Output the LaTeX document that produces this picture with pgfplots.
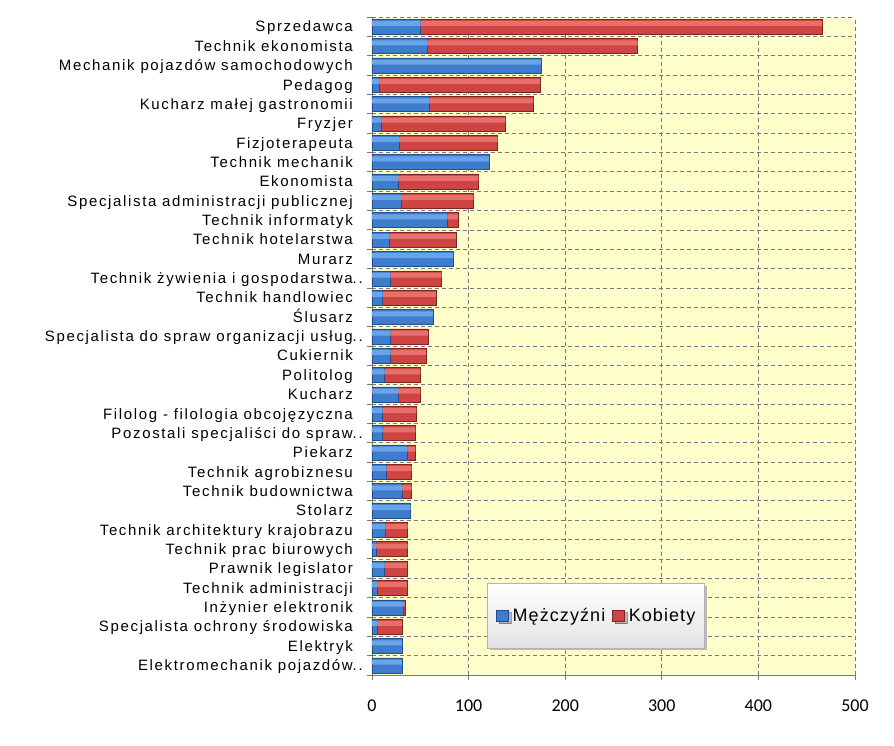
\documentclass[border=0pt]{standalone}
\usepackage{pgfplots}
\pgfplotsset{compat=1.18}
\usetikzlibrary{shadows}
\usepackage{fontspec}
\setmainfont{Liberation Sans}
\newfontfamily\lab[LetterSpace=11]{Liberation Sans}
\newfontfamily\leg[LetterSpace=6]{Liberation Sans}
\newfontfamily\num{Carlito}
\definecolor{bgy}{RGB}{255,255,204}
\definecolor{gridc}{RGB}{120,120,120}
\definecolor{bluehi}{RGB}{105,163,232}
\definecolor{bluemid}{RGB}{62,124,206}
\definecolor{bluebot}{RGB}{35,78,140}
\definecolor{redhi}{RGB}{232,112,108}
\definecolor{redmid}{RGB}{205,68,66}
\definecolor{redbot}{RGB}{128,34,34}
\pgfplotsset{myleg/.style={legend image code/.code={\fill[##1] (0pt,-5.5pt) rectangle (12pt,5.5pt);}}}
\pgfplotstableread{
idx m k
0 31 0
1 31 0
2 5 26
3 32 2
4 5 31
5 13 23
6 4 33
7 14 23
8 40 0
9 31 10
10 15 26
11 37 8
12 11 34
13 11 35
14 27 23
15 13 37
16 19 37
17 19 39
18 63 0
19 11 55
20 19 53
21 84 0
22 18 69
23 78 11
24 30 75
25 27 83
26 121 0
27 28 102
28 10 128
29 59 108
30 7 167
31 175 0
32 57 218
33 50 416
}\datatable
\begin{document}
\begin{tikzpicture}
\begin{axis}[
  at={(0,0)}, anchor=south west,
  scale only axis, width=483pt, height=658pt,
  xbar stacked, bar width=15pt,
  xmin=0, xmax=500, ymin=-0.5, ymax=33.5,
  xtick={0,100,...,500},
  minor xtick={0,100,...,500},
  ytick={0,...,33},
  minor ytick={-0.5,0.5,...,33.5},
  major tick length=0pt, minor tick length=5pt,
  tick align=outside,
  axis x line*=bottom, axis y line*=left,
  axis line style={gridc, line width=0.8pt},
  tick style={gridc, line width=0.8pt},
  xmajorgrids, yminorgrids,
  major grid style={gridc, dash pattern=on 4pt off 3pt, line width=0.7pt},
  minor grid style={gridc, dash pattern=on 4pt off 3pt, line width=0.7pt},
  axis background/.style={fill=bgy},
  /pgf/number format/assume math mode=true,
  yticklabels={Elektromechanik pojazdów\rlap{..},Elektryk,Specjalista ochrony środowiska,Inżynier elektronik,Technik administracji,Prawnik legislator,Technik prac biurowych,Technik architektury krajobrazu,Stolarz,Technik budownictwa,Technik agrobiznesu,Piekarz,Pozostali specjaliści do spraw\rlap{..},Filolog - filologia obcojęzyczna,Kucharz,Politolog,Cukiernik,Specjalista do spraw organizacji usług\rlap{..},Ślusarz,Technik handlowiec,Technik żywienia i gospodarstwa\rlap{..},Murarz,Technik hotelarstwa,Technik informatyk,Specjalista administracji publicznej,Ekonomista,Technik mechanik,Fizjoterapeuta,Fryzjer,Kucharz małej gastronomii,Pedagog,Mechanik pojazdów samochodowych,Technik ekonomista,Sprzedawca},
  yticklabel style={font=\lab\fontsize{15}{15}\selectfont, anchor=base east, inner sep=0pt, xshift=-19pt, yshift=-5.3pt},
  xticklabel style={font=\num\fontsize{18}{18}\selectfont, anchor=north, inner sep=0pt, yshift=-25pt},
  legend columns=2,
  legend style={at={(axis description cs:0.238,0.041)}, anchor=south west,
    draw=gray!60, top color=white, bottom color=gray!22, drop shadow,
    font=\leg\fontsize{18}{18}\selectfont, inner xsep=9pt, inner ysep=25pt,
    nodes={inner sep=0pt},
    /tikz/every even column/.append style={column sep=7pt}},
]
\addplot[myleg, draw=bluebot, line width=0.5pt, fill=bluemid] table[x=m, y=idx] {\datatable};
\addplot[myleg, draw=redbot, line width=0.5pt, fill=redmid] table[x=k, y=idx] {\datatable};
\legend{\hspace{4pt}Mężczyźni,\hspace{4pt}Kobiety}
\end{axis}
\begin{axis}[
  at={(0,0)}, anchor=south west,
  scale only axis, width=483pt, height=658pt,
  xbar stacked, hide axis,
  xmin=0, xmax=500, ymin=-0.5, ymax=33.5,
]
\addplot[draw=none, fill=bluehi, bar width=5pt, bar shift=3.2pt] table[x=m, y=idx] {\datatable};
\addplot[draw=none, fill=redhi, bar width=5pt, bar shift=3.2pt] table[x=k, y=idx] {\datatable};
\end{axis}
\pgfresetboundingbox
\path[use as bounding box] (-372pt,-71pt) rectangle (522pt,675pt);
\end{tikzpicture}
\end{document}
